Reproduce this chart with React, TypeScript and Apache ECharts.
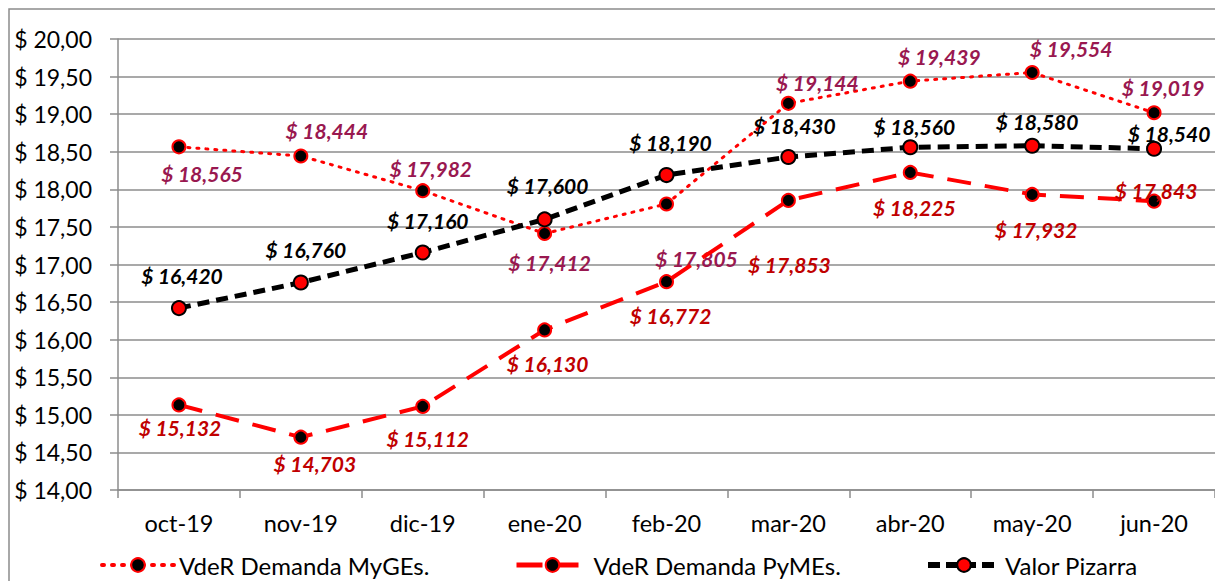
import React, { useEffect, useRef } from "react";
import * as echarts from "echarts";

const categories = ["oct-19", "nov-19", "dic-19", "ene-20", "feb-20", "mar-20", "abr-20", "may-20", "jun-20"];
const seriesNames = ["VdeR Demanda MyGEs.", "VdeR Demanda PyMEs.", "Valor Pizarra"];
const myges = [18.565, 18.444, 17.982, 17.412, 17.805, 19.144, 19.439, 19.554, 19.019];
const pymes = [15.132, 14.703, 15.112, 16.13, 16.772, 17.853, 18.225, 17.932, 17.843];
const pizarra = [16.42, 16.76, 17.16, 17.6, 18.19, 18.43, 18.56, 18.58, 18.54];
const yMin = 14;
const yMax = 20;
const yInterval = 0.5;

// label offsets (layout only)
const mygesOffsets = [[23, 27], [26, -25], [8, -22], [5, 29], [30, 55], [29, -21], [29, -25], [39, -24], [9, -25]];
const pymesOffsets = [[1, 23], [14, 26], [5, 32], [3, 34], [4, 34], [1, 64], [4, 35], [4, 35], [2, -11]];
const pizarraOffsets = [[3, -33], [5, -33], [5, -32], [3, -34], [4, -33], [6, -32], [4, -21], [5, -24], [15, -15]];
const legendLefts = [95, 509, 920];

const FONT = "Lato";

const fmtVal = (v: number) => "$ " + v.toFixed(3).replace(".", ",");
const fmtAxis = (v: number) => "$ " + v.toFixed(2).replace(".", ",");

function buildData(values: number[], offsets: number[][]) {
  return values.map((v, i) => ({
    value: v,
    label: { offset: offsets[i] },
  }));
}

export default function App() {
  const ref = useRef<HTMLDivElement>(null);
  useEffect(() => {
    if (!ref.current) return;
    const chart = echarts.init(ref.current, null, { renderer: "svg" });
    const labelBase = {
      show: true,
      position: "inside",
      align: "center",
      verticalAlign: "middle",
      fontFamily: FONT,
      fontSize: 21,
      fontWeight: "bold",
      fontStyle: "italic",
      formatter: (p: any) => fmtVal(p.value),
    };
    const legendLines = [
      { color: "#ff0000", width: 4, type: [2, 8], cap: "round" },
      { color: "#ff0000", width: 5, type: [26, 10] },
      { color: "#000000", width: 6, type: [12, 6] },
    ];
    chart.setOption({
      animation: false,
      backgroundColor: "#ffffff",
      textStyle: { fontFamily: FONT },
      graphic: [
        {
          type: "rect",
          shape: { x: 9, y: 9, width: 1220, height: 580 },
          style: { fill: "none", stroke: "#8c8c8c", lineWidth: 1.5 },
          silent: true,
          z: -10,
        },
      ],
      grid: { left: 118, right: 0, top: 39, bottom: 91 },
      legend: seriesNames.map((name, i) => ({
        left: legendLefts[i],
        top: 548,
        itemWidth: 72,
        itemHeight: 17,
        lineStyle: legendLines[i],
        textStyle: { fontFamily: FONT, fontSize: 24, color: "#000" },
        data: [name],
      })),
      xAxis: {
        type: "category",
        data: categories,
        boundaryGap: true,
        axisLine: { lineStyle: { color: "#8c8c8c", width: 1.5 } },
        axisTick: { show: true, length: 8, lineStyle: { color: "#8c8c8c", width: 1.5 } },
        axisLabel: { color: "#000", fontSize: 23.5, fontFamily: FONT, margin: 21 },
      },
      yAxis: {
        type: "value",
        min: yMin,
        max: yMax,
        interval: yInterval,
        axisLine: { show: true, lineStyle: { color: "#8c8c8c", width: 1.5 } },
        axisTick: { show: true, length: 8, lineStyle: { color: "#8c8c8c", width: 1.5 } },
        splitLine: { lineStyle: { color: "#8c8c8c", width: 1.5 } },
        axisLabel: {
          color: "#000",
          fontSize: 23,
          fontFamily: FONT,
          margin: 26,
          formatter: (v: number) => fmtAxis(v),
        },
      },
      series: [
        {
          name: seriesNames[0],
          type: "line",
          data: buildData(myges, mygesOffsets),
          symbol: "circle",
          symbolSize: 13,
          itemStyle: { color: "#000000", borderColor: "#ff0000", borderWidth: 2 },
          lineStyle: { color: "#ff0000", width: 3, type: [2, 7], cap: "round" },
          label: { ...labelBase, color: "#991850" },
          z: 2,
        },
        {
          name: seriesNames[1],
          type: "line",
          data: buildData(pymes, pymesOffsets),
          symbol: "circle",
          symbolSize: 13,
          itemStyle: { color: "#000000", borderColor: "#ff0000", borderWidth: 2 },
          lineStyle: { color: "#ff0000", width: 4, type: [24, 14] },
          label: { ...labelBase, color: "#c00000" },
          z: 3,
        },
        {
          name: seriesNames[2],
          type: "line",
          data: buildData(pizarra, pizarraOffsets),
          symbol: "circle",
          symbolSize: 14,
          itemStyle: { color: "#ff0000", borderColor: "#000000", borderWidth: 2 },
          lineStyle: { color: "#000000", width: 5, type: [12, 7] },
          label: { ...labelBase, color: "#000000" },
          z: 4,
        },
      ],
    });
    return () => chart.dispose();
  }, []);
  return (
    <div
      ref={ref}
      style={{ position: "fixed", left: 0, top: 0, width: 1215, height: 581 }}
    />
  );
}
